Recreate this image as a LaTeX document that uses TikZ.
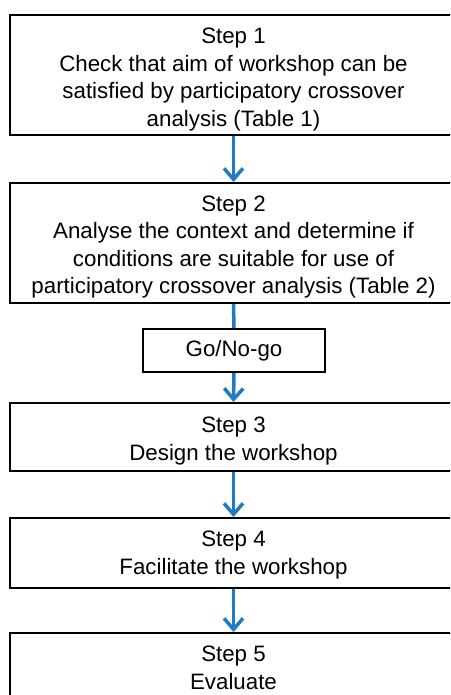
\documentclass[tikz,border=0pt]{standalone}
\usepackage{fontspec}
\setmainfont{Liberation Sans}
\usetikzlibrary{arrows.meta}
\definecolor{arrowblue}{RGB}{31,124,196}
\newcommand{\mystrut}{\rule{0pt}{24pt}}
\newcommand{\mysmallstrut}{\rule{0pt}{20pt}}
\tikzset{
  stepbox/.style={draw=black, line width=2pt, minimum width=447pt, inner sep=0pt,
    align=center, font=\fontsize{22.3}{27.5}\selectfont},
  gobox/.style={draw=black, line width=2pt, minimum width=182pt, minimum height=43pt,
    inner sep=0pt, font=\fontsize{22.3}{27.5}\selectfont},
  flow/.style={draw=arrowblue, line width=3.5pt, -{Straight Barb[length=11pt,width=19pt]}},
  plainflow/.style={draw=arrowblue, line width=3.5pt}
}
\begin{document}
\begin{tikzpicture}[x=1pt,y=-1pt]
\useasboundingbox (0,0) rectangle (450,695);
\clip (0,0) rectangle (450,695);
\node[stepbox, minimum height=120pt] (s1) at (233.5,75.5)
  {\mystrut Step 1\\Check that aim of workshop can be\\satisfied by participatory crossover\\analysis (Table 1)};
\node[stepbox, minimum height=120pt] (s2) at (233.5,243)
  {\mystrut Step 2\\Analyse the context and determine if\\conditions are suitable for use of\\participatory crossover analysis (Table 2)};
\node[gobox] (go) at (234,350.5) {Go/No-go};
\node[stepbox, minimum height=68pt] (s3) at (233.5,437) {\mystrut Step 3\\Design the workshop};
\node[stepbox, minimum height=70pt] (s4) at (233.5,553) {\mysmallstrut Step 4\\Facilitate the workshop};
\node[stepbox, minimum height=70pt] (s5) at (233.5,668) {Step 5\\Evaluate};
\draw[flow] (s1.south) -- (s2.north);
\draw[plainflow] (s2.south) -- (go.north);
\draw[flow] (go.south) -- (s3.north);
\draw[flow] (s3.south) -- (s4.north);
\draw[flow] (s4.south) -- (s5.north);
\end{tikzpicture}
\end{document}
